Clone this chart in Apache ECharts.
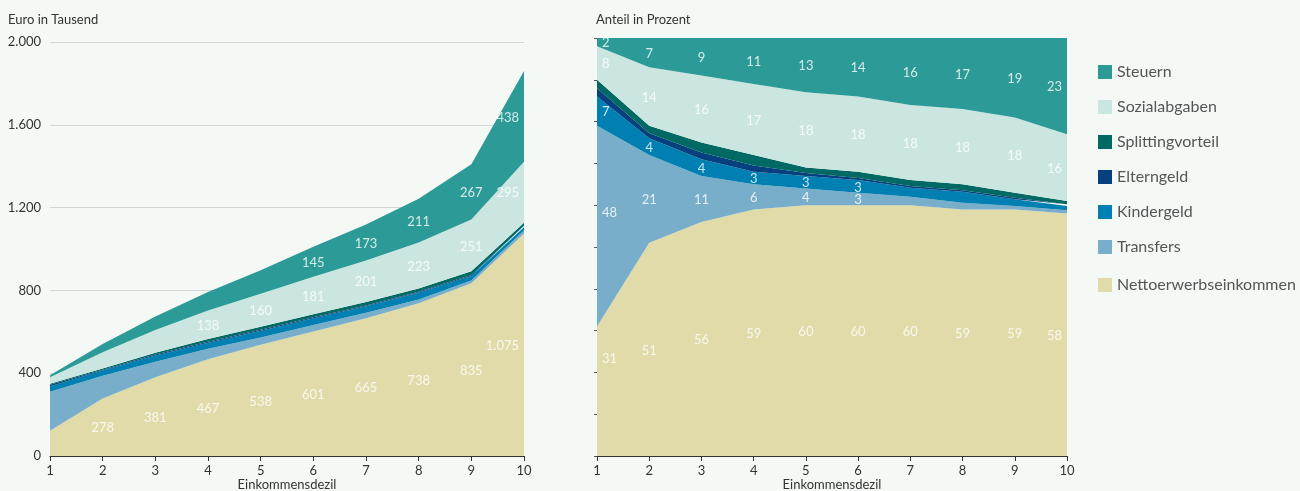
<!DOCTYPE html>
<html lang="de">
<head>
<meta charset="utf-8">
<title>Einkommensdezile</title>
<script src="https://cdn.jsdelivr.net/npm/echarts@6/dist/echarts.min.js"></script>
<style>
  html, body { margin: 0; padding: 0; background: #f5f9f6; }
  #chart { width: 1300px; height: 491px; }
</style>
</head>
<body>
<div id="chart"></div>
<script>
// Einkommensdezile (x-Achse beider Diagramme)
const deciles = ['1', '2', '3', '4', '5', '6', '7', '8', '9', '10'];

// Linkes Diagramm: Euro in Tausend
const nettoEuro      = [122, 278, 381, 467, 538, 601, 665, 738, 835, 1075];
const transfersEuro  = [188, 110, 74, 51, 35, 32, 27, 18, 13, 15];
const kindergeldEuro = [27, 25, 31, 29, 32, 33, 31, 34, 21, 15];
const elterngeldEuro = [7, 4, 4, 5, 5, 4, 4, 4, 6, 7];
const splittingEuro  = [5, 6, 9, 13, 14, 15, 17, 15, 17, 15];
const sozialEuro     = [32, 78, 110, 138, 160, 181, 201, 223, 251, 295];
const steuernEuro    = [9, 40, 65, 89, 113, 145, 173, 211, 267, 438];

// Rechtes Diagramm: Anteil in Prozent
const nettoPct      = [31, 51, 56, 59, 60, 60, 60, 59, 59, 58];
const transfersPct  = [48, 21, 11, 6, 4, 3, 2.0, 1.6, 0.8, 0.8];
const kindergeldPct = [7, 4, 4, 3, 3, 3, 2.2, 2.6, 1.6, 1.0];
const elterngeldPct = [2, 1.2, 1.6, 1.5, 0.7, 0.5, 0.4, 0.4, 0.4, 0.4];
const splittingPct  = [2, 1.8, 2.4, 2.5, 1.3, 1.5, 1.4, 1.4, 1.2, 0.8];
const sozialPct     = [8, 14, 16, 17, 18, 18, 18, 18, 18, 16];
const steuernPct    = [2, 7, 9, 11, 13, 14, 16, 17, 19, 23];

// Achsenbeschriftung links
const euroTicks = [0, 400, 800, 1200, 1600, 2000];

const FONT = 'Lato, "Noto Sans", sans-serif';
const TEXT = '#333333';

// Stapelreihenfolge von unten nach oben
const layers = [
  { name: 'Nettoerwerbseinkommen', color: '#e1dbaa', euro: nettoEuro,      pct: nettoPct,      euroLabels: [1,2,3,4,5,6,7,8,9], pctLabels: [0,1,2,3,4,5,6,7,8,9] },
  { name: 'Transfers',             color: '#79aeca', euro: transfersEuro,  pct: transfersPct,  euroLabels: [],                  pctLabels: [0,1,2,3,4,5] },
  { name: 'Kindergeld',            color: '#0080b2', euro: kindergeldEuro, pct: kindergeldPct, euroLabels: [],                  pctLabels: [0,1,2,3,4,5] },
  { name: 'Elterngeld',            color: '#06407f', euro: elterngeldEuro, pct: elterngeldPct, euroLabels: [],                  pctLabels: [] },
  { name: 'Splittingvorteil',      color: '#006964', euro: splittingEuro,  pct: splittingPct,  euroLabels: [],                  pctLabels: [] },
  { name: 'Sozialabgaben',         color: '#cbe6e1', euro: sozialEuro,     pct: sozialPct,     euroLabels: [3,4,5,6,7,8,9],     pctLabels: [0,1,2,3,4,5,6,7,8,9] },
  { name: 'Steuern',               color: '#2c9b97', euro: steuernEuro,    pct: steuernPct,    euroLabels: [5,6,7,8,9],         pctLabels: [0,1,2,3,4,5,6,7,8,9] }
];

// Verschiebung einzelner Beschriftungen am linken Rand (in Prozentpunkten)
const labelNudge = { 'pct|Nettoerwerbseinkommen|0': 8, 'pct|Transfers|0': 3.5 };

// Tausenderpunkt wie im Deutschen
function de(v) {
  return String(Math.round(v)).replace(/\B(?=(\d{3})+(?!\d))/g, '.');
}

function areaSeries(key, axisIndex) {
  return layers.map(l => ({
    name: l.name,
    type: 'line',
    stack: key,
    xAxisIndex: axisIndex,
    yAxisIndex: axisIndex,
    data: l[key],
    color: l.color,
    itemStyle: { color: l.color },
    lineStyle: { width: 0 },
    areaStyle: { color: l.color, opacity: 1 },
    symbol: 'none',
    showSymbol: false,
    silent: true,
    emphasis: { disabled: true }
  }));
}

// Wertbeschriftungen in der Mitte des jeweiligen Bandes
function labelSeries(key, labelKey, axisIndex) {
  const points = [];
  const base = deciles.map(() => 0);
  layers.forEach(l => {
    const vals = l[key];
    l[labelKey].forEach(i => {
      const first = i === 0, last = i === deciles.length - 1;
      const nudge = labelNudge[key + '|' + l.name + '|' + i] || 0;
      points.push({
        value: [i, base[i] + vals[i] / 2 + nudge],
        v: vals[i],
        label: {
          align: first ? 'left' : (last ? 'right' : 'center'),
          offset: [first ? 5 : (last ? -5 : 0), 1]
        }
      });
    });
    vals.forEach((v, i) => { base[i] += v; });
  });
  return {
    type: 'scatter',
    name: 'labels-' + key,
    xAxisIndex: axisIndex,
    yAxisIndex: axisIndex,
    data: points,
    symbolSize: 1,
    itemStyle: { color: 'rgba(0,0,0,0)' },
    silent: true,
    z: 10,
    label: {
      show: true,
      position: 'inside',
      verticalAlign: 'middle',
      color: '#ffffff',
      fontFamily: FONT,
      fontSize: 13,
      formatter: p => de(p.data.v)
    },
    emphasis: { disabled: true }
  };
}

function xAxis(gridIndex) {
  return {
    type: 'category',
    gridIndex: gridIndex,
    data: deciles,
    boundaryGap: false,
    name: 'Einkommensdezil',
    nameLocation: 'middle',
    nameGap: 22,
    nameMoveOverlap: false,
    nameTextStyle: { color: TEXT, fontFamily: FONT, fontSize: 13, verticalAlign: 'top' },
    axisLine: { show: true, lineStyle: { color: '#333333', width: 1 } },
    axisTick: { show: true, alignWithLabel: true, length: 5, lineStyle: { color: '#333333' } },
    axisLabel: { color: TEXT, fontFamily: FONT, fontSize: 13, margin: 8 },
    splitLine: { show: false },
    z: 5
  };
}

const chart = echarts.init(document.getElementById('chart'), null, { renderer: 'canvas' });

const titleStyle = { color: TEXT, fontFamily: FONT, fontSize: 13, fontWeight: 'normal' };
const legendText = { color: '#555555', fontFamily: FONT, fontSize: 16, lineHeight: 14 };

chart.setOption({
  backgroundColor: '#f5f9f6',
  animation: false,
  textStyle: { fontFamily: FONT },
  title: [
    { text: 'Euro in Tausend', left: 8, top: 13, padding: 0, textStyle: titleStyle },
    { text: 'Anteil in Prozent', left: 596, top: 13, padding: 0, textStyle: titleStyle }
  ],
  legend: [
    {
      orient: 'vertical', left: 1098, top: 64, padding: 0,
      itemWidth: 14, itemHeight: 14, itemGap: 19, icon: 'rect',
      selectedMode: false,
      data: ['Steuern', 'Sozialabgaben', 'Splittingvorteil', 'Elterngeld', 'Kindergeld', 'Transfers'],
      textStyle: legendText
    },
    {
      orient: 'vertical', left: 1098, top: 277, padding: 0,
      itemWidth: 14, itemHeight: 14, icon: 'rect',
      selectedMode: false,
      data: ['Nettoerwerbseinkommen'],
      textStyle: legendText
    }
  ],
  grid: [
    { left: 50, right: 776, top: 42, bottom: 35, outerBoundsMode: 'none', containLabel: false },
    { left: 597, right: 233, top: 38, bottom: 35, outerBoundsMode: 'none', containLabel: false }
  ],
  xAxis: [xAxis(0), xAxis(1)],
  yAxis: [
    {
      type: 'value', gridIndex: 0,
      min: euroTicks[0], max: euroTicks[euroTicks.length - 1], interval: euroTicks[1] - euroTicks[0],
      axisLine: { show: false },
      axisTick: { show: false },
      axisLabel: { color: TEXT, fontFamily: FONT, fontSize: 13, margin: 9, formatter: v => de(v) },
      splitLine: { show: true, lineStyle: { color: '#d3d6d4', width: 1 } }
    },
    {
      type: 'value', gridIndex: 1,
      min: 0, max: 100, interval: 10,
      axisLine: { show: false },
      axisTick: { show: true, length: 3, lineStyle: { color: '#555555' } },
      axisLabel: { show: false },
      splitLine: { show: false }
    }
  ],
  series: [
    ...areaSeries('euro', 0),
    labelSeries('euro', 'euroLabels', 0),
    ...areaSeries('pct', 1),
    labelSeries('pct', 'pctLabels', 1)
  ]
});
</script>
</body>
</html>
